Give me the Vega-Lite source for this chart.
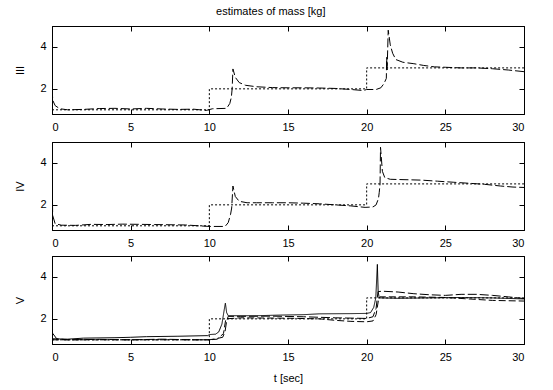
{
 "$schema": "https://vega.github.io/schema/vega-lite/v6.json",
 "background": "white",
 "padding": {"left": 14, "top": 6, "right": 5, "bottom": 5},
 "title": {"text": "estimates of mass [kg]", "fontSize": 11, "fontWeight": "normal", "font": "Liberation Sans", "color": "black", "offset": 8, "anchor": "middle"},
 "config": {
  "view": {"stroke": "black", "strokeWidth": 1},
  "axis": {"grid": false, "domainColor": "black", "tickColor": "black", "tickSize": -5, "labelColor": "black", "labelFont": "Liberation Sans", "labelFontSize": 11, "titleFont": "Liberation Sans", "titleFontSize": 11, "titleFontWeight": "normal", "titleColor": "black"},
  "axisX": {"labelPadding": 12},
  "axisY": {"labelPadding": 11, "titlePadding": 14}
 },
 "spacing": 6,
 "datasets": {"d": [
  {"p":"III","s":"ref","i":0,"t":0,"v":1},{"p":"III","s":"ref","i":1,"t":10,"v":1},{"p":"III","s":"ref","i":2,"t":10,"v":2},{"p":"III","s":"ref","i":3,"t":20,"v":2},{"p":"III","s":"ref","i":4,"t":20,"v":3},{"p":"III","s":"ref","i":5,"t":30,"v":3},
  {"p":"IV","s":"ref","i":0,"t":0,"v":1},{"p":"IV","s":"ref","i":1,"t":10,"v":1},{"p":"IV","s":"ref","i":2,"t":10,"v":2},{"p":"IV","s":"ref","i":3,"t":20,"v":2},{"p":"IV","s":"ref","i":4,"t":20,"v":3},{"p":"IV","s":"ref","i":5,"t":30,"v":3},
  {"p":"V","s":"ref","i":0,"t":0,"v":1},{"p":"V","s":"ref","i":1,"t":10,"v":1},{"p":"V","s":"ref","i":2,"t":10,"v":2},{"p":"V","s":"ref","i":3,"t":20,"v":2},{"p":"V","s":"ref","i":4,"t":20,"v":3},{"p":"V","s":"ref","i":5,"t":30,"v":3},
  {"p":"III","s":"est","i":0,"t":0,"v":2.0},{"p":"III","s":"est","i":1,"t":0.05,"v":1.45},{"p":"III","s":"est","i":2,"t":0.2,"v":1.2},{"p":"III","s":"est","i":3,"t":0.5,"v":1.05},{"p":"III","s":"est","i":4,"t":1,"v":1.0},{"p":"III","s":"est","i":5,"t":2,"v":1.02},{"p":"III","s":"est","i":6,"t":3,"v":1.06},{"p":"III","s":"est","i":7,"t":4,"v":1.07},{"p":"III","s":"est","i":8,"t":5,"v":1.04},{"p":"III","s":"est","i":9,"t":6,"v":1.07},{"p":"III","s":"est","i":10,"t":7,"v":1.04},{"p":"III","s":"est","i":11,"t":8,"v":1.02},{"p":"III","s":"est","i":12,"t":9,"v":1.03},{"p":"III","s":"est","i":13,"t":9.8,"v":0.97},{"p":"III","s":"est","i":14,"t":10.2,"v":1.05},{"p":"III","s":"est","i":15,"t":11.1,"v":1.07},{"p":"III","s":"est","i":16,"t":11.3,"v":1.3},{"p":"III","s":"est","i":17,"t":11.4,"v":1.6},{"p":"III","s":"est","i":18,"t":11.45,"v":2.0},{"p":"III","s":"est","i":19,"t":11.5,"v":2.95},{"p":"III","s":"est","i":20,"t":11.65,"v":2.55},{"p":"III","s":"est","i":21,"t":11.9,"v":2.3},{"p":"III","s":"est","i":22,"t":12.3,"v":2.17},{"p":"III","s":"est","i":23,"t":13,"v":2.1},{"p":"III","s":"est","i":24,"t":14,"v":2.06},{"p":"III","s":"est","i":25,"t":15,"v":2.05},{"p":"III","s":"est","i":26,"t":16,"v":2.05},{"p":"III","s":"est","i":27,"t":17,"v":2.04},{"p":"III","s":"est","i":28,"t":18,"v":2.02},{"p":"III","s":"est","i":29,"t":19,"v":1.97},{"p":"III","s":"est","i":30,"t":19.8,"v":1.92},{"p":"III","s":"est","i":31,"t":20,"v":1.97},{"p":"III","s":"est","i":32,"t":20.6,"v":1.97},{"p":"III","s":"est","i":33,"t":20.9,"v":2.05},{"p":"III","s":"est","i":34,"t":21.1,"v":2.25},{"p":"III","s":"est","i":35,"t":21.25,"v":2.5},{"p":"III","s":"est","i":36,"t":21.27,"v":3.5},{"p":"III","s":"est","i":37,"t":21.3,"v":2.9},{"p":"III","s":"est","i":38,"t":21.37,"v":4.8},{"p":"III","s":"est","i":39,"t":21.5,"v":4.1},{"p":"III","s":"est","i":40,"t":21.65,"v":3.7},{"p":"III","s":"est","i":41,"t":21.85,"v":3.4},{"p":"III","s":"est","i":42,"t":22.3,"v":3.27},{"p":"III","s":"est","i":43,"t":23,"v":3.2},{"p":"III","s":"est","i":44,"t":23.6,"v":3.12},{"p":"III","s":"est","i":45,"t":24.3,"v":3.05},{"p":"III","s":"est","i":46,"t":25,"v":3.03},{"p":"III","s":"est","i":47,"t":26,"v":3.0},{"p":"III","s":"est","i":48,"t":27,"v":3.0},{"p":"III","s":"est","i":49,"t":28,"v":2.96},{"p":"III","s":"est","i":50,"t":29,"v":2.9},{"p":"III","s":"est","i":51,"t":30,"v":2.82},
  {"p":"IV","s":"est","i":0,"t":0,"v":4.95},{"p":"IV","s":"est","i":1,"t":0.04,"v":1.5},{"p":"IV","s":"est","i":2,"t":0.2,"v":1.1},{"p":"IV","s":"est","i":3,"t":0.6,"v":1.03},{"p":"IV","s":"est","i":4,"t":1.5,"v":1.02},{"p":"IV","s":"est","i":5,"t":2.5,"v":1.07},{"p":"IV","s":"est","i":6,"t":3.5,"v":1.06},{"p":"IV","s":"est","i":7,"t":4.5,"v":1.08},{"p":"IV","s":"est","i":8,"t":5.5,"v":1.07},{"p":"IV","s":"est","i":9,"t":6.5,"v":1.06},{"p":"IV","s":"est","i":10,"t":7.5,"v":1.05},{"p":"IV","s":"est","i":11,"t":8.5,"v":1.04},{"p":"IV","s":"est","i":12,"t":9.3,"v":1.0},{"p":"IV","s":"est","i":13,"t":10,"v":0.97},{"p":"IV","s":"est","i":14,"t":11,"v":0.97},{"p":"IV","s":"est","i":15,"t":11.2,"v":1.15},{"p":"IV","s":"est","i":16,"t":11.35,"v":1.55},{"p":"IV","s":"est","i":17,"t":11.42,"v":1.85},{"p":"IV","s":"est","i":18,"t":11.5,"v":2.9},{"p":"IV","s":"est","i":19,"t":11.65,"v":2.4},{"p":"IV","s":"est","i":20,"t":11.9,"v":2.17},{"p":"IV","s":"est","i":21,"t":12.4,"v":2.1},{"p":"IV","s":"est","i":22,"t":13,"v":2.1},{"p":"IV","s":"est","i":23,"t":14,"v":2.1},{"p":"IV","s":"est","i":24,"t":15,"v":2.1},{"p":"IV","s":"est","i":25,"t":16,"v":2.08},{"p":"IV","s":"est","i":26,"t":17,"v":2.05},{"p":"IV","s":"est","i":27,"t":18,"v":2.0},{"p":"IV","s":"est","i":28,"t":19,"v":1.95},{"p":"IV","s":"est","i":29,"t":19.9,"v":1.88},{"p":"IV","s":"est","i":30,"t":20.4,"v":1.9},{"p":"IV","s":"est","i":31,"t":20.6,"v":2.0},{"p":"IV","s":"est","i":32,"t":20.75,"v":2.3},{"p":"IV","s":"est","i":33,"t":20.8,"v":2.6},{"p":"IV","s":"est","i":34,"t":20.85,"v":3.0},{"p":"IV","s":"est","i":35,"t":20.88,"v":4.75},{"p":"IV","s":"est","i":36,"t":21.0,"v":3.6},{"p":"IV","s":"est","i":37,"t":21.15,"v":3.3},{"p":"IV","s":"est","i":38,"t":21.5,"v":3.22},{"p":"IV","s":"est","i":39,"t":22.5,"v":3.2},{"p":"IV","s":"est","i":40,"t":23.5,"v":3.18},{"p":"IV","s":"est","i":41,"t":24.5,"v":3.13},{"p":"IV","s":"est","i":42,"t":25.5,"v":3.08},{"p":"IV","s":"est","i":43,"t":26.5,"v":3.03},{"p":"IV","s":"est","i":44,"t":27.5,"v":2.98},{"p":"IV","s":"est","i":45,"t":28.5,"v":2.9},{"p":"IV","s":"est","i":46,"t":29.3,"v":2.85},{"p":"IV","s":"est","i":47,"t":30,"v":2.83},
  {"p":"V","s":"sol","i":0,"t":0,"v":1.05},{"p":"V","s":"sol","i":1,"t":1,"v":1.03},{"p":"V","s":"sol","i":2,"t":2,"v":1.08},{"p":"V","s":"sol","i":3,"t":4,"v":1.1},{"p":"V","s":"sol","i":4,"t":5,"v":1.12},{"p":"V","s":"sol","i":5,"t":6,"v":1.15},{"p":"V","s":"sol","i":6,"t":8,"v":1.17},{"p":"V","s":"sol","i":7,"t":9.9,"v":1.2},{"p":"V","s":"sol","i":8,"t":10,"v":1.25},{"p":"V","s":"sol","i":9,"t":10.4,"v":1.27},{"p":"V","s":"sol","i":10,"t":10.6,"v":1.38},{"p":"V","s":"sol","i":11,"t":10.8,"v":1.75},{"p":"V","s":"sol","i":12,"t":10.95,"v":2.45},{"p":"V","s":"sol","i":13,"t":11.02,"v":2.75},{"p":"V","s":"sol","i":14,"t":11.1,"v":2.3},{"p":"V","s":"sol","i":15,"t":11.2,"v":2.15},{"p":"V","s":"sol","i":16,"t":13,"v":2.15},{"p":"V","s":"sol","i":17,"t":14.5,"v":2.18},{"p":"V","s":"sol","i":18,"t":16,"v":2.2},{"p":"V","s":"sol","i":19,"t":17,"v":2.24},{"p":"V","s":"sol","i":20,"t":19,"v":2.25},{"p":"V","s":"sol","i":21,"t":20,"v":2.26},{"p":"V","s":"sol","i":22,"t":20.25,"v":2.3},{"p":"V","s":"sol","i":23,"t":20.45,"v":2.55},{"p":"V","s":"sol","i":24,"t":20.58,"v":3.0},{"p":"V","s":"sol","i":25,"t":20.68,"v":4.6},{"p":"V","s":"sol","i":26,"t":20.73,"v":3.3},{"p":"V","s":"sol","i":27,"t":20.8,"v":3.0},{"p":"V","s":"sol","i":28,"t":22,"v":2.98},{"p":"V","s":"sol","i":29,"t":24,"v":3.0},{"p":"V","s":"sol","i":30,"t":26,"v":3.02},{"p":"V","s":"sol","i":31,"t":28,"v":3.0},{"p":"V","s":"sol","i":32,"t":30,"v":2.95},
  {"p":"V","s":"est","i":0,"t":0,"v":1.9},{"p":"V","s":"est","i":1,"t":0.05,"v":1.3},{"p":"V","s":"est","i":2,"t":0.3,"v":1.05},{"p":"V","s":"est","i":3,"t":1,"v":1.0},{"p":"V","s":"est","i":4,"t":3,"v":1.02},{"p":"V","s":"est","i":5,"t":5,"v":1.0},{"p":"V","s":"est","i":6,"t":7,"v":1.03},{"p":"V","s":"est","i":7,"t":9,"v":1.0},{"p":"V","s":"est","i":8,"t":10,"v":1.0},{"p":"V","s":"est","i":9,"t":10.4,"v":1.05},{"p":"V","s":"est","i":10,"t":10.85,"v":1.12},{"p":"V","s":"est","i":11,"t":11.0,"v":1.4},{"p":"V","s":"est","i":12,"t":11.1,"v":1.9},{"p":"V","s":"est","i":13,"t":11.2,"v":2.12},{"p":"V","s":"est","i":14,"t":12,"v":2.12},{"p":"V","s":"est","i":15,"t":14,"v":2.13},{"p":"V","s":"est","i":16,"t":16,"v":2.1},{"p":"V","s":"est","i":17,"t":18,"v":2.05},{"p":"V","s":"est","i":18,"t":20,"v":2.02},{"p":"V","s":"est","i":19,"t":20.4,"v":2.1},{"p":"V","s":"est","i":20,"t":20.6,"v":2.5},{"p":"V","s":"est","i":21,"t":20.72,"v":3.3},{"p":"V","s":"est","i":22,"t":21,"v":3.32},{"p":"V","s":"est","i":23,"t":22,"v":3.28},{"p":"V","s":"est","i":24,"t":23,"v":3.2},{"p":"V","s":"est","i":25,"t":24,"v":3.15},{"p":"V","s":"est","i":26,"t":25,"v":3.12},{"p":"V","s":"est","i":27,"t":26,"v":3.17},{"p":"V","s":"est","i":28,"t":27,"v":3.17},{"p":"V","s":"est","i":29,"t":28,"v":3.12},{"p":"V","s":"est","i":30,"t":29,"v":3.05},{"p":"V","s":"est","i":31,"t":30,"v":2.97},
  {"p":"V","s":"est3","i":0,"t":0,"v":1.0},{"p":"V","s":"est3","i":1,"t":10,"v":1.0},{"p":"V","s":"est3","i":2,"t":10.5,"v":1.03},{"p":"V","s":"est3","i":3,"t":10.9,"v":1.3},{"p":"V","s":"est3","i":4,"t":11.05,"v":2.0},{"p":"V","s":"est3","i":5,"t":12,"v":2.05},{"p":"V","s":"est3","i":6,"t":15,"v":2.03},{"p":"V","s":"est3","i":7,"t":17,"v":2.0},{"p":"V","s":"est3","i":8,"t":18,"v":1.93},{"p":"V","s":"est3","i":9,"t":19,"v":1.88},{"p":"V","s":"est3","i":10,"t":20,"v":1.86},{"p":"V","s":"est3","i":11,"t":20.4,"v":1.9},{"p":"V","s":"est3","i":12,"t":20.6,"v":2.2},{"p":"V","s":"est3","i":13,"t":20.75,"v":2.9},{"p":"V","s":"est3","i":14,"t":20.85,"v":3.05},{"p":"V","s":"est3","i":15,"t":23,"v":3.05},{"p":"V","s":"est3","i":16,"t":25,"v":3.02},{"p":"V","s":"est3","i":17,"t":26.5,"v":2.95},{"p":"V","s":"est3","i":18,"t":28,"v":2.88},{"p":"V","s":"est3","i":19,"t":30,"v":2.85}
 ]},
 "vconcat": [
  {"width": 472, "height": 88, "data": {"name": "d"}, "transform": [{"filter": "datum.p === 'III'"}],
   "layer": [
    {"mark": {"type": "line", "stroke": "black", "strokeWidth": 1, "clip": true},
     "encoding": {
      "x": {"field": "t", "type": "quantitative", "scale": {"domain": [0, 30], "nice": false, "zero": false}, "axis": {"values": [0,5,10,15,20,25,30], "title": null}},
      "y": {"field": "v", "type": "quantitative", "scale": {"domain": [0.8, 5], "nice": false, "zero": false}, "axis": {"values": [2,4], "title": "III"}},
      "strokeDash": {"field": "s", "type": "nominal", "scale": {"domain": ["ref","est","sol","est3"], "range": [[2,2],[9,3],[1,0],[7,3]]}, "legend": null},
      "order": {"field": "i", "type": "quantitative"}}},
    {"mark": {"type": "point", "opacity": 0},
     "encoding": {
      "x": {"field": "t", "type": "quantitative", "scale": {"domain": [0, 30], "nice": false, "zero": false}, "axis": {"orient": "top", "values": [0,5,10,15,20,25,30], "labels": false, "title": null}},
      "y": {"field": "v", "type": "quantitative", "scale": {"domain": [0.8, 5], "nice": false, "zero": false}, "axis": {"orient": "right", "values": [2,4], "labels": false, "title": null}}}}
   ],
   "resolve": {"axis": {"x": "independent", "y": "independent"}}},
  {"width": 472, "height": 88, "data": {"name": "d"}, "transform": [{"filter": "datum.p === 'IV'"}],
   "layer": [
    {"mark": {"type": "line", "stroke": "black", "strokeWidth": 1, "clip": true},
     "encoding": {
      "x": {"field": "t", "type": "quantitative", "scale": {"domain": [0, 30], "nice": false, "zero": false}, "axis": {"values": [0,5,10,15,20,25,30], "title": null}},
      "y": {"field": "v", "type": "quantitative", "scale": {"domain": [0.8, 5], "nice": false, "zero": false}, "axis": {"values": [2,4], "title": "IV"}},
      "strokeDash": {"field": "s", "type": "nominal", "scale": {"domain": ["ref","est","sol","est3"], "range": [[2,2],[9,3],[1,0],[7,3]]}, "legend": null},
      "order": {"field": "i", "type": "quantitative"}}},
    {"mark": {"type": "point", "opacity": 0},
     "encoding": {
      "x": {"field": "t", "type": "quantitative", "scale": {"domain": [0, 30], "nice": false, "zero": false}, "axis": {"orient": "top", "values": [0,5,10,15,20,25,30], "labels": false, "title": null}},
      "y": {"field": "v", "type": "quantitative", "scale": {"domain": [0.8, 5], "nice": false, "zero": false}, "axis": {"orient": "right", "values": [2,4], "labels": false, "title": null}}}}
   ],
   "resolve": {"axis": {"x": "independent", "y": "independent"}}},
  {"width": 472, "height": 88, "data": {"name": "d"}, "transform": [{"filter": "datum.p === 'V'"}],
   "layer": [
    {"mark": {"type": "line", "stroke": "black", "strokeWidth": 1, "clip": true},
     "encoding": {
      "x": {"field": "t", "type": "quantitative", "scale": {"domain": [0, 30], "nice": false, "zero": false}, "axis": {"values": [0,5,10,15,20,25,30], "title": "t [sec]", "titlePadding": 10}},
      "y": {"field": "v", "type": "quantitative", "scale": {"domain": [0.8, 5], "nice": false, "zero": false}, "axis": {"values": [2,4], "title": "V"}},
      "strokeDash": {"field": "s", "type": "nominal", "scale": {"domain": ["ref","est","sol","est3"], "range": [[2,2],[9,3],[1,0],[7,3]]}, "legend": null},
      "order": {"field": "i", "type": "quantitative"}}},
    {"mark": {"type": "point", "opacity": 0},
     "encoding": {
      "x": {"field": "t", "type": "quantitative", "scale": {"domain": [0, 30], "nice": false, "zero": false}, "axis": {"orient": "top", "values": [0,5,10,15,20,25,30], "labels": false, "title": null}},
      "y": {"field": "v", "type": "quantitative", "scale": {"domain": [0.8, 5], "nice": false, "zero": false}, "axis": {"orient": "right", "values": [2,4], "labels": false, "title": null}}}}
   ],
   "resolve": {"axis": {"x": "independent", "y": "independent"}}}
 ]
}
